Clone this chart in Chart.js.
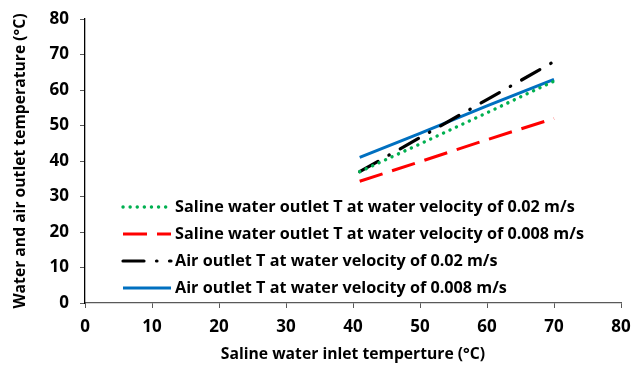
<!DOCTYPE html>
<html>
<head>
<meta charset="utf-8">
<script src="https://cdn.jsdelivr.net/npm/chart.js@4"></script>
<style>
  html, body { margin: 0; padding: 0; background: #fff; }
  #wrap { width: 632px; height: 365px; }
</style>
</head>
<body>
<div id="wrap"><canvas id="c" width="632" height="365"></canvas></div>
<script>
// Saline water inlet temperature (°C)
const inletTemp = [41, 50, 60, 70];

// Outlet temperatures (°C)
const salineOutlet002 = [37.0, 44.8, 53.6, 62.5];
const salineOutlet0008 = [34.3, 39.8, 46.0, 52.0];
const airOutlet002 = [37.0, 46.6, 57.3, 68.0];
const airOutlet0008 = [41.0, 47.8, 55.5, 63.0];

const seriesLabels = [
  'Saline water outlet T at water velocity of 0.02 m/s',
  'Saline water outlet T at water velocity of 0.008 m/s',
  'Air outlet T at water velocity of 0.02 m/s',
  'Air outlet T at water velocity of 0.008 m/s'
];

const xTitle = 'Saline water inlet temperture (°C)';
const yTitle = 'Water and air outlet temperature (°C)';

const FONT = '"Open Sans"';

function pts(ys) {
  return inletTemp.map((x, i) => ({ x: x, y: ys[i] }));
}

const datasets = [
  { label: seriesLabels[0], data: pts(salineOutlet002), borderColor: '#00B050',
    borderWidth: 3.4, borderDash: [0.1, 7], borderCapStyle: 'round' },
  { label: seriesLabels[1], data: pts(salineOutlet0008), borderColor: '#FF0000',
    borderWidth: 3, borderDash: [24, 10], borderCapStyle: 'butt' },
  { label: seriesLabels[2], data: pts(airOutlet002), borderColor: '#000000',
    borderWidth: 3.2, borderDash: [21, 12.5, 0.5, 12.5], borderCapStyle: 'round' },
  { label: seriesLabels[3], data: pts(airOutlet0008), borderColor: '#0070C0',
    borderWidth: 3, borderDash: [], borderCapStyle: 'butt' }
].map(d => Object.assign(d, { pointRadius: 0, fill: false, tension: 0 }));

// Axis titles and the in-plot legend
const decorations = {
  id: 'decorations',
  afterDraw(chart) {
    const ctx = chart.ctx;
    const area = chart.chartArea;
    ctx.save();
    ctx.fillStyle = '#000';
    ctx.textBaseline = 'middle';

    // axis titles
    ctx.font = 'bold 15.7px ' + FONT;
    ctx.textAlign = 'center';
    ctx.fillText(xTitle, (area.left + area.right) / 2, 355);

    ctx.save();
    ctx.translate(21, (area.top + area.bottom) / 2);
    ctx.rotate(-Math.PI / 2);
    ctx.fillText(yTitle, 0, 0);
    ctx.restore();

    // legend
    ctx.font = 'bold 16.2px ' + FONT;
    const rowY = [207, 234, 261, 288];
    ctx.textAlign = 'left';
    chart.data.datasets.forEach((ds, i) => {
      const y = rowY[i];
      ctx.save();
      ctx.strokeStyle = ds.borderColor;
      ctx.lineWidth = ds.borderWidth;
      ctx.lineCap = ds.borderCapStyle;
      ctx.setLineDash(ds.borderDash);
      ctx.beginPath();
      ctx.moveTo(123, y);
      ctx.lineTo(171, y);
      ctx.stroke();
      ctx.restore();
      ctx.fillText(ds.label, 175, y);
    });
    ctx.restore();
  }
};

const tickFont = { family: FONT, size: 17, weight: 'bold' };

new Chart(document.getElementById('c'), {
  type: 'line',
  data: { datasets: datasets },
  options: {
    responsive: false,
    animation: false,
    layout: { padding: { left: 0, right: 11, top: 19, bottom: 0 } },
    plugins: { legend: { display: false }, tooltip: { enabled: false } },
    scales: {
      x: {
        type: 'linear', min: 0, max: 80,
        ticks: { stepSize: 10, color: '#000', font: tickFont, padding: 9, maxRotation: 0 },
        grid: { drawOnChartArea: false, drawTicks: true, tickLength: 5, color: '#595959' },
        border: { color: '#595959', width: 1.3 },
        afterFit(scale) {
          scale.height = 62;
          scale.paddingLeft = 0;
          scale.paddingRight = 0;
        }
      },
      y: {
        type: 'linear', min: 0, max: 80,
        ticks: { stepSize: 10, color: '#000', font: tickFont, padding: 11 },
        grid: { drawOnChartArea: false, drawTicks: true, tickLength: 5, color: '#595959' },
        border: { color: '#000', width: 1.3 },
        afterFit(scale) {
          scale.width = 85;
          scale.paddingTop = 0;
          scale.paddingBottom = 0;
        }
      }
    }
  },
  plugins: [decorations]
});
</script>
</body>
</html>
